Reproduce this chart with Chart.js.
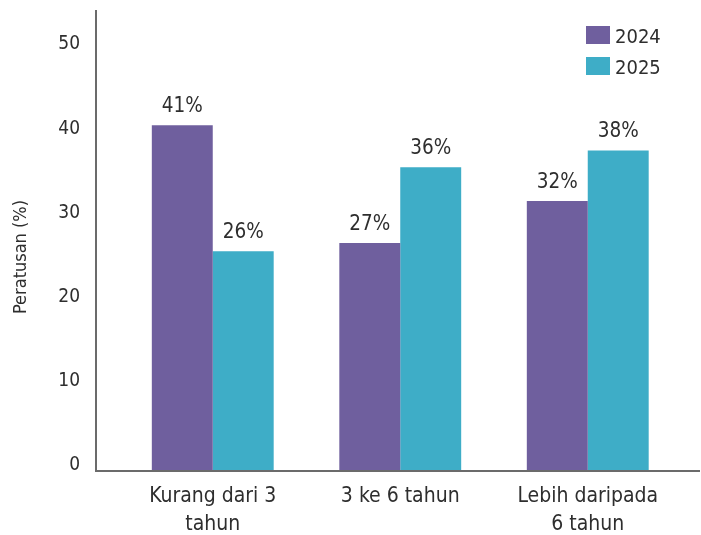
<!DOCTYPE html>
<html><head><meta charset="utf-8">
<script src="https://cdn.jsdelivr.net/npm/chart.js@4"></script>
<style>html,body{margin:0;padding:0;background:#fff}</style>
</head><body><canvas id="c" width="701" height="535"></canvas>
<script>
const categories = [['Kurang dari 3','tahun'], '3 ke 6 tahun', ['Lebih daripada','6 tahun']];
const seriesNames = ['2024', '2025'];
const values2024 = [41, 27, 32];
const values2025 = [26, 36, 38];
const yTicks = [0, 10, 20, 30, 40, 50];
const yTitle = 'Peratusan (%)';
const colors = ['#6f5f9e', '#3eadc7'];
const FONT = '"DejaVu Sans Condensed", "DejaVu Sans", sans-serif';
const TXT = '#2e2e2e';

const extrasPlugin = {
  id: 'extras',
  afterDatasetsDraw(chart) {
    const ctx = chart.ctx;
    ctx.save();
    ctx.font = '20.5px ' + FONT;
    ctx.fillStyle = TXT;
    ctx.textAlign = 'center';
    ctx.textBaseline = 'alphabetic';
    chart.data.datasets.forEach((ds, di) => {
      chart.getDatasetMeta(di).data.forEach((bar, i) => {
        ctx.fillText(ds.data[i] + '%', bar.x, bar.y - 13);
      });
    });
    // axis lines
    const x0 = 96, yb = chart.scales.y.getPixelForValue(0);
    ctx.strokeStyle = '#6b6b6b';
    ctx.lineWidth = 2;
    ctx.beginPath();
    ctx.moveTo(x0, 10);
    ctx.lineTo(x0, yb + 1);
    ctx.lineTo(700, yb + 1);
    ctx.stroke();
    // y-axis title
    ctx.save();
    ctx.translate(21, 257);
    ctx.rotate(-Math.PI / 2);
    ctx.font = '18px ' + FONT;
    ctx.textAlign = 'center';
    ctx.textBaseline = 'middle';
    ctx.fillText(yTitle, 0, 0);
    ctx.restore();
    // legend
    ctx.font = '20px ' + FONT;
    ctx.textAlign = 'left';
    chart.data.datasets.forEach((ds, di) => {
      const cy = 35 + di * 31;
      ctx.fillStyle = ds.backgroundColor;
      ctx.fillRect(586, cy - 9, 24, 18);
      ctx.fillStyle = TXT;
      ctx.fillText(ds.label, 615, cy + 7.5);
    });
    ctx.restore();
  }
};

new Chart(document.getElementById('c'), {
  type: 'bar',
  data: {
    labels: categories,
    datasets: [
      { label: seriesNames[0], data: values2024, backgroundColor: colors[0] },
      { label: seriesNames[1], data: values2025, backgroundColor: colors[1] }
    ]
  },
  options: {
    responsive: false,
    animation: false,
    layout: { padding: { top: 10, right: 19.5, left: 0, bottom: 0 } },
    plugins: { legend: { display: false }, tooltip: { enabled: false } },
    datasets: { bar: { categoryPercentage: 0.65, barPercentage: 1.0 } },
    scales: {
      x: {
        grid: { display: false, drawTicks: false },
        border: { display: false },
        ticks: { color: TXT, font: { family: FONT, size: 21, lineHeight: 1.33 }, padding: 13, maxRotation: 0, autoSkip: false },
        afterFit(s) { s.height = 65; s.paddingLeft = 0; s.paddingRight = 0; }
      },
      y: {
        min: 0, max: 54.7,
        grid: { display: false, drawTicks: false },
        border: { display: false },
        ticks: { color: TXT, font: { family: FONT, size: 19 }, padding: 39, labelOffset: -5 },
        afterBuildTicks(s) { s.ticks = yTicks.map(v => ({ value: v })); },
        afterFit(s) { s.width = 119; s.paddingTop = 0; s.paddingBottom = 0; }
      }
    }
  },
  plugins: [extrasPlugin]
});
</script></body></html>
